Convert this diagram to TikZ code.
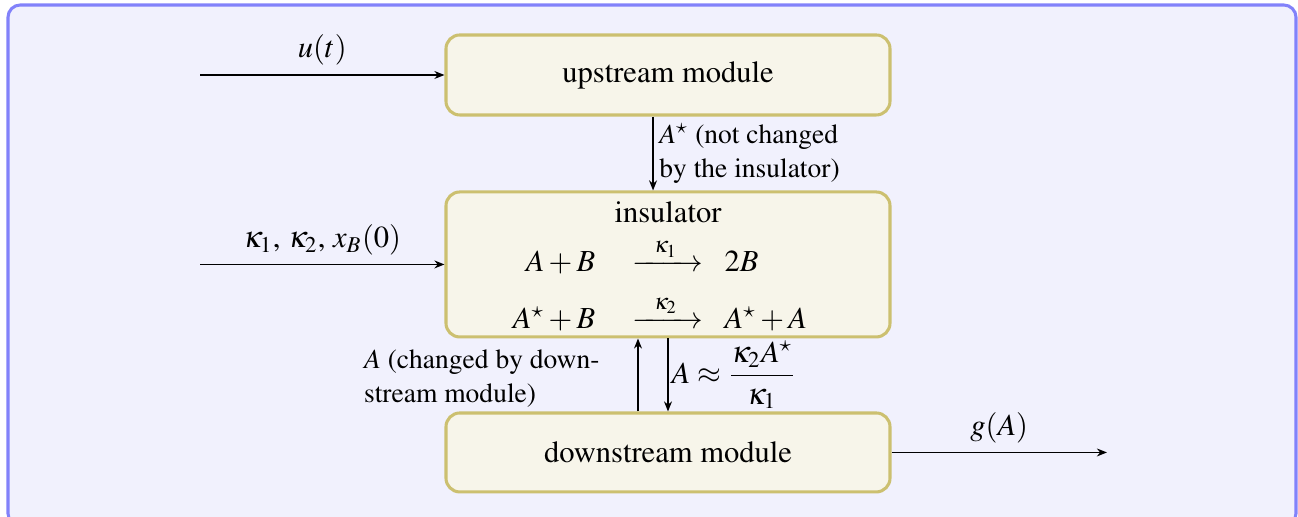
\documentclass[tikz,border=0pt]{standalone}
\usepackage[T1]{fontenc}
\usepackage{amsmath}
\usepackage{mathptmx}
\usepackage{tikz}
\usetikzlibrary{calc, positioning, arrows.meta}
\definecolor{Framecol}{RGB}{130,130,250}
\definecolor{Framebg}{RGB}{241,241,253}
\definecolor{Boxfill}{RGB}{247,245,234}
\definecolor{Boxdraw}{RGB}{204,192,112}
\newcommand{\rxnarrow}[1]{\xrightarrow{\hspace{5pt}#1\hspace{5pt}}}

\begin{document}
\begin{tikzpicture}[
  x=1cm, y=1cm,
  font=\normalsize,
  module/.style={draw=Boxdraw, fill=Boxfill, rounded corners=4.5pt,
                 minimum width=5.106cm, line width=1pt, align=center},
  arr/.style={-{Stealth[length=3.3pt, width=2.6pt]}, line width=0.45pt},
  lbl/.style={align=left, inner sep=1pt},
  note/.style={lbl, font=\small}
]
\useasboundingbox (0,0) rectangle (14.927,5.9455);

%% ---- marco de fondo ----
\draw[draw=Framecol, fill=Framebg, line width=1pt, rounded corners=4pt]
  (0.092,-0.1) rectangle (14.904,5.888);

%% ---- modulos ----
\node[module, minimum height=0.92cm]   (up)   at (7.682,5.083) {upstream module};
\node[module, minimum height=1.6675cm] (ins)  at (7.682,2.904) {};
\node[module, minimum height=0.908cm]  (down) at (7.682,0.742) {downstream module};

\node (insname) at (7.682,3.5) {insulator};
\node (rxns) at (7.59,2.625)
  {$\begin{array}{r@{\hspace{12pt}}c@{\hspace{7pt}}l}
     A + B & \rxnarrow{\kappa_1} & 2B\\[4pt]
     A^\star + B & \rxnarrow{\kappa_2} & A^\star + A
   \end{array}$};

%% ---- entradas ----
\coordinate (uin) at (2.3,5.083);
\coordinate (kin) at (2.3,2.904);
\coordinate (gout) at (12.73,0.742);

\draw[arr] (uin) -- node[above=-0.5pt]{$u(t)$} (up.west);
\draw[arr] (kin) -- node[above=-0.5pt]{$\kappa_1$, $\kappa_2$, $x_B(0)$} (ins.west);

%% ---- conexiones verticales ----
\draw[arr] (up.south -| 7.51,0) -- node[note, right, xshift=0.03cm]{$A^\star$ (not changed\\by the insulator)} (ins.north -| 7.51,0);
\draw[arr] (down.north -| 7.337,0) -- node[note, left, xshift=-0.4cm, yshift=-0.04cm]{$A$ (changed by down-\\stream module)} (ins.south -| 7.337,0);
\draw[arr] (ins.south) -- node[lbl, right]{$A \approx \dfrac{\kappa_2 A^\star}{\kappa_1}$} (down.north);

%% ---- salida ----
\draw[arr] (down.east) -- node[above=-0.5pt]{$g(A)$} (gout);

\end{tikzpicture}
\end{document}
